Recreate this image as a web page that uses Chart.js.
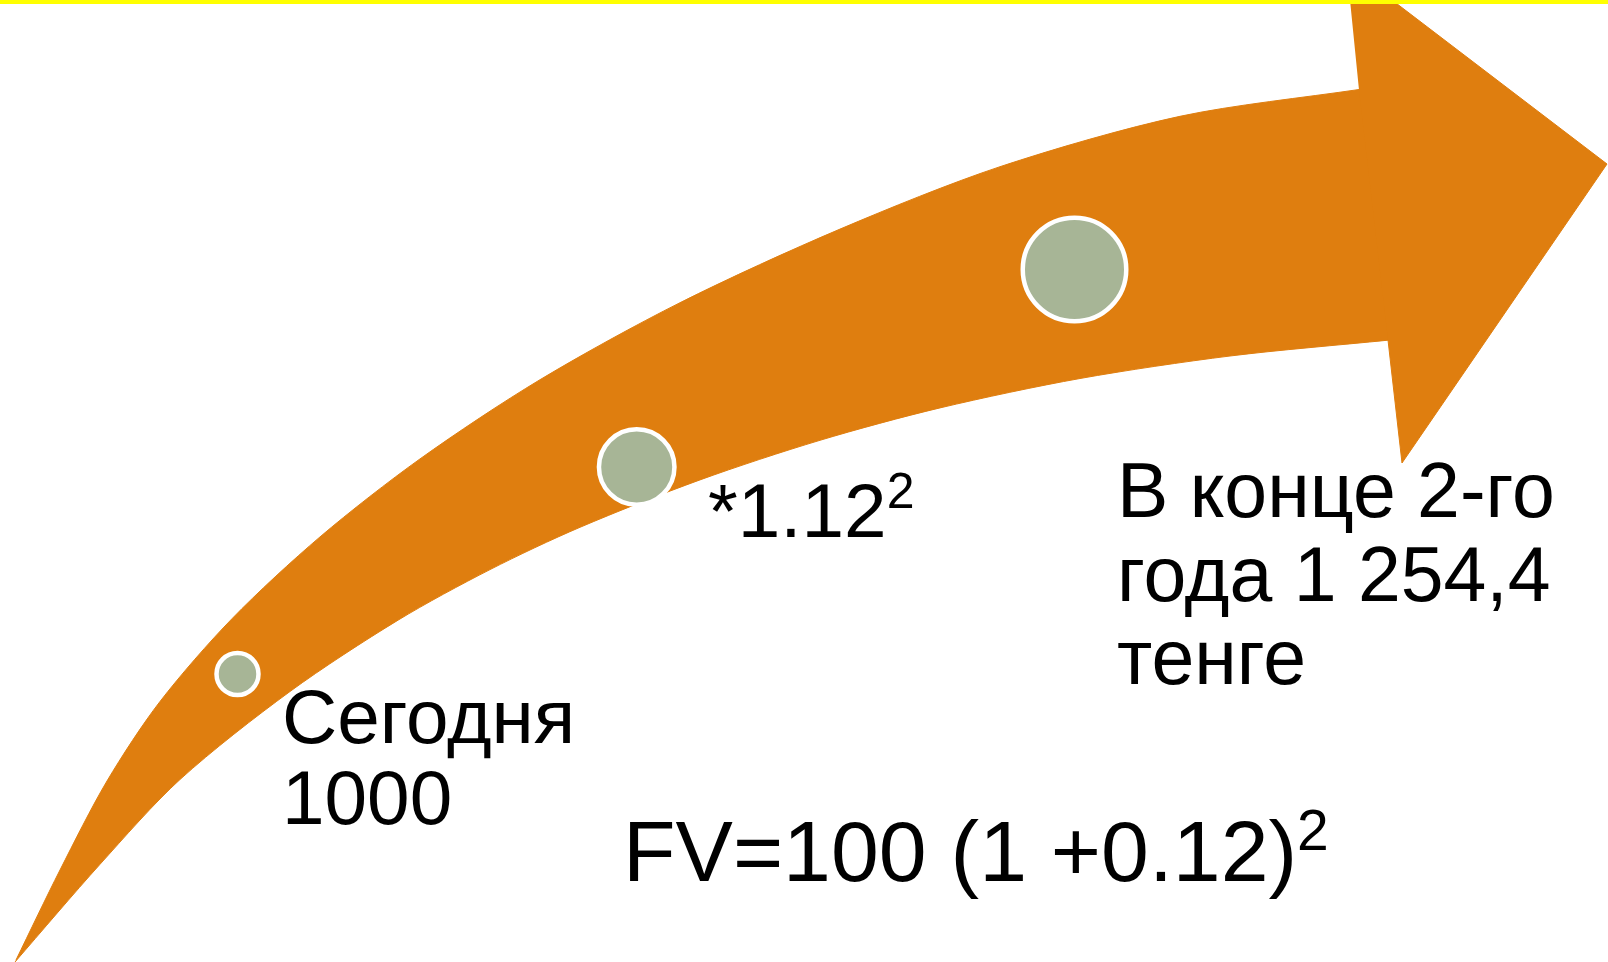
<!DOCTYPE html>
<html>
<head>
<meta charset="utf-8">
<script src="https://cdn.jsdelivr.net/npm/chart.js@4.4.1/dist/chart.umd.min.js"></script>
<style>
  html, body { margin: 0; padding: 0; background: #fff; }
  #wrap { position: relative; width: 1608px; height: 962px; }
</style>
</head>
<body>
<div id="wrap"><canvas id="fvChart"></canvas></div>
<script>
// arrow outline (slide pixels, y grows downwards)
// the shaft runs on a little into the head so its corners hide under it
const shaftTopX = [16, 60, 107, 160, 232, 320, 420, 540, 680, 840, 1000, 1180, 1359, 1420];
const shaftTopY = [960, 870, 781, 701.5, 618.7, 536.9, 458.9, 379.7, 302.7, 229.1, 166.7, 116.3, 89.5, 80.5];
const shaftBottomX = [1420, 1388, 1230, 1080, 940, 820, 700, 580, 490, 398, 290, 180, 100, 15];
const shaftBottomY = [337, 340.2, 356, 378.5, 407.9, 440.3, 479.9, 527.3, 569.6, 620.2, 691.5, 779.5, 864.3, 962];
const headX = [1350, 1392, 1607, 1402, 1388, 1359];
const headY = [0, 0, 164, 463, 340, 90];

// yellow rule at the top of the slide
const ruleX = [0, 1608];
const ruleY = [2, 2];

// the three stages sitting on the arrow
const stageX = [237.5, 636.7, 1074.5];
const stageY = [674, 467, 269.5];

// texts
const todayLabel = ["Сегодня", "1000"];
const rateLabel = "*1.12";
const rateSup = "2";
const endLabel = ["В конце 2-го", "года 1 254,4", "тенге"];
const formulaLabel = "FV=100 (1 +0.12)";
const formulaSup = "2";

/* ===== styles ===== */
const ORANGE = "#DF7E0F";
const SAGE = "#A7B596";
const FONT = "'Liberation Sans', Arial, sans-serif";

const stageRadius = [21, 37.75, 51.75];

// where each text block sits (slide pixels, left edge + first baseline)
const textPos = {
  today:   { x: 282, y: 743, size: 76.5, lead: 81 },
  rate:    { x: 708, y: 537, size: 76.5, supSize: 50, supRise: 29 },
  end:     { x: 1117, y: 517, size: 77, lead: 83.5 },
  formula: { x: 623, y: 881, size: 86, supSize: 57, supRise: 31 }
};

const toPoints = (xs, ys) => xs.map((x, i) => ({ x, y: ys[i] }));

/* ===== text plugin ===== */
const slideText = {
  id: "slideText",
  afterDatasetsDraw(chart) {
    const { ctx, scales: { x, y } } = chart;
    ctx.save();
    ctx.fillStyle = "#000";
    ctx.textAlign = "left";
    ctx.textBaseline = "alphabetic";

    const lines = (arr, p) => {
      ctx.font = p.size + "px " + FONT;
      arr.forEach((t, i) => ctx.fillText(t, x.getPixelForValue(p.x), y.getPixelForValue(p.y + i * p.lead)));
    };
    const withSup = (main, sup, p) => {
      ctx.font = p.size + "px " + FONT;
      const px = x.getPixelForValue(p.x);
      const py = y.getPixelForValue(p.y);
      ctx.fillText(main, px, py);
      const w = ctx.measureText(main).width;
      ctx.font = p.supSize + "px " + FONT;
      ctx.fillText(sup, px + w, py - p.supRise);
    };

    lines(todayLabel, textPos.today);
    lines(endLabel, textPos.end);
    withSup(rateLabel, rateSup, textPos.rate);
    withSup(formulaLabel, formulaSup, textPos.formula);
    ctx.restore();
  }
};

new Chart(document.getElementById("fvChart"), {
  type: "line",
  data: {
    datasets: [
      {
        // yellow rule
        data: toPoints(ruleX, ruleY),
        borderColor: "#FFFF00",
        borderWidth: 4,
        pointRadius: 0,
        fill: false,
        order: 0
      },
      {
        // stage circles
        data: toPoints(stageX, stageY),
        showLine: false,
        pointRadius: stageRadius,
        pointBackgroundColor: SAGE,
        pointBorderColor: "#FFFFFF",
        pointBorderWidth: 4.5,
        order: 1
      },
      {
        // arrow head
        data: toPoints(headX, headY),
        borderColor: ORANGE,
        backgroundColor: ORANGE,
        borderWidth: 1,
        pointRadius: 0,
        tension: 0,
        fill: "shape",
        order: 2
      },
      {
        // curved shaft
        data: toPoints(shaftTopX, shaftTopY).concat(toPoints(shaftBottomX, shaftBottomY)),
        borderColor: ORANGE,
        backgroundColor: ORANGE,
        borderWidth: 1,
        pointRadius: 0,
        tension: 0.3,
        fill: "shape",
        order: 3
      }
    ]
  },
  options: {
    responsive: true,
    maintainAspectRatio: false,
    animation: false,
    events: [],
    layout: { padding: 0, autoPadding: false },
    plugins: {
      legend: { display: false },
      tooltip: { enabled: false }
    },
    scales: {
      x: { type: "linear", display: false, min: 0, max: 1608 },
      y: { type: "linear", display: false, min: 0, max: 962, reverse: true }
    }
  },
  plugins: [slideText]
});
</script>
</body>
</html>
